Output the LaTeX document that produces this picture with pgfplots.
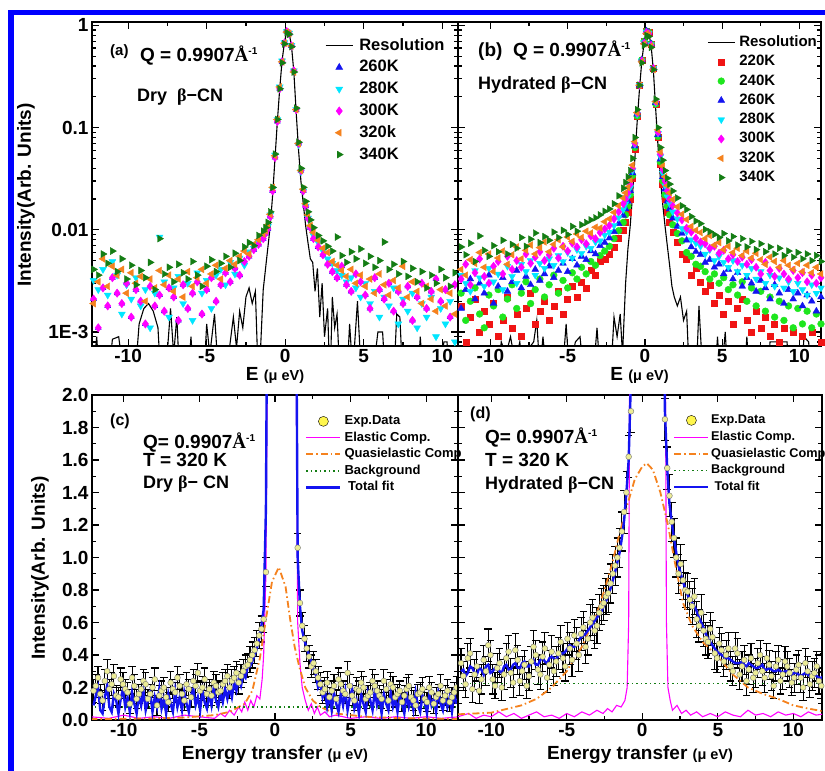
\documentclass[border=0pt]{standalone}
\usepackage{fontspec}
\setmainfont{Liberation Sans}
\newfontfamily\serif{Liberation Serif}
\usepackage{pgfplots}
\usepackage{pgfplotstable}
\pgfplotsset{compat=1.18}
\definecolor{cB}{RGB}{20,20,240}
\definecolor{cC}{RGB}{0,230,255}
\definecolor{cM}{RGB}{255,0,255}
\definecolor{cO}{RGB}{245,130,30}
\definecolor{cG}{RGB}{20,125,20}
\definecolor{cR}{RGB}{240,20,20}
\definecolor{cL}{RGB}{30,230,30}
\definecolor{cY}{RGB}{236,236,150}
\definecolor{frameblue}{RGB}{0,0,255}
\newcommand\fs[1]{\fontsize{#1}{#1}\selectfont}
\newcommand\Ang{{\serif\bfseries Å}}
\newcommand\supm{\raisebox{7pt}{\fs{10}-1}}
\newcommand\Tx[3]{\node[anchor=base west,inner sep=0pt] at ({#1pt},{771pt-#2pt}) {#3};}

\pgfplotsset{
 every axis/.append style={scale only axis, axis line style={line width=1.4pt},
  tick style={black, line width=1.2pt}, major tick length=7pt, minor tick length=4pt,
  tick align=inside, /pgf/number format/assume math mode=true,
  tick label style={font=\fs{19}\bfseries}, label style={font=\fs{19}\bfseries},
  legend cell align=left},
 legA/.style={legend image code/.code={\draw[mark repeat=2,mark phase=2,##1] plot coordinates {(0pt,0pt) (13.5pt,0pt) (27pt,0pt)};}},
 legC/.style={legend image code/.code={\draw[mark repeat=2,mark phase=2,##1] plot coordinates {(0pt,0pt) (17pt,0pt) (34pt,0pt)};}},
}

\pgfplotstableread{
x t260 t280 t300 t320 t340
-12.2 0.0021 0.0032 0.0021 0.0019 0.0041
-11.9 0.0011 0.0026 0.0011 0.0031 0.0036
-11.6 0.0027 0.0041 0.0027 0.0052 0.0058
-11.3 0.0018 0.0023 0.0018 0.0028 0.0047
-11.0 0.0034 0.0049 0.0034 0.0044 0.0062
-10.7 0.0024 0.0036 0.0024 0.0036 0.0039
-10.4 0.0019 0.0015 0.0019 0.0041 0.0052
-10.1 0.0030 0.0029 0.0030 0.0024 0.0033
-9.8 0.0014 0.0021 0.0014 0.0038 0.0045
-9.5 0.0026 0.0034 0.0026 0.0030 0.0029
-9.2 0.0020 0.0018 0.0020 0.0035 0.0040
-8.9 0.0012 0.0026 0.0012 0.0020 0.0034
-8.6 0.0028 0.0011 0.0028 0.0033 0.0048
-8.3 0.0018 0.0024 0.0018 0.0027 0.0026
-8.0 0.0023 0.0085 0.0023 0.0040 0.0082
-7.7 0.0016 0.0031 0.0016 0.0029 0.0037
-7.4 0.0027 0.0014 0.0027 0.0036 0.0043
-7.1 0.0022 0.0027 0.0022 0.0025 0.0031
-6.8 0.0013 0.0035 0.0013 0.0033 0.0046
-6.5 0.0029 0.0019 0.0029 0.0022 0.0038
-6.2 0.0017 0.0030 0.0017 0.0039 0.0033
-5.9 0.0024 0.0013 0.0024 0.0028 0.0049
-5.6 0.0031 0.0038 0.0031 0.0034 0.0036
-5.3 0.0015 0.0024 0.0015 0.0041 0.0028
-5.0 0.0026 0.0032 0.0026 0.0030 0.0044
-4.7 0.0034 0.0017 0.0034 0.0037 0.0051
-4.4 0.0020 0.0036 0.0020 0.0045 0.0039
-4.1 0.0029 0.0041 0.0029 0.0033 0.0047
-3.8 0.0038 0.0029 0.0038 0.0042 0.0055
-3.5 0.0031 0.0048 0.0031 0.0050 0.0043
-3.2 0.0042 0.0037 0.0042 0.0046 0.0059
-2.9 0.0036 0.0053 0.0036 0.0055 0.0050
-2.6 0.0049 0.0045 0.0049 0.0062 0.0068
-2.3 0.0055 0.0061 0.0055 0.0058 0.0075
-2.0 0.0064 0.0066 0.0064 0.0072 0.0070
-1.7 0.0072 0.0075 0.0072 0.0080 0.0088
-1.4 0.0082 0.0086 0.0082 0.0091 0.0097
-1.25 0.0092 0.0095 0.0092 0.0098 0.0105
-1.1 0.0102 0.0108 0.0102 0.0112 0.0118
-0.95 0.0135 0.014 0.0135 0.0142 0.015
-0.8 0.024 0.025 0.024 0.026 0.026
-0.65 0.051 0.054 0.051 0.053 0.055
-0.5 0.115 0.12 0.115 0.12 0.12
-0.35 0.24 0.25 0.24 0.25 0.24
-0.2 0.44 0.45 0.44 0.44 0.43
-0.05 0.67 0.68 0.67 0.67 0.66
0.1 0.87 0.87 0.87 0.86 0.85
0.25 0.83 0.84 0.83 0.83 0.82
0.4 0.63 0.64 0.63 0.63 0.62
0.55 0.36 0.36 0.36 0.35 0.35
0.7 0.15 0.15 0.15 0.15 0.155
0.85 0.07 0.068 0.07 0.07 0.072
1.0 0.038 0.037 0.038 0.038 0.04
1.15 0.024 0.024 0.024 0.025 0.026
1.3 0.017 0.017 0.017 0.018 0.019
1.45 0.013 0.013 0.013 0.014 0.015
1.6 0.0105 0.0105 0.0105 0.011 0.0125
1.8 0.0082 0.0088 0.0082 0.0094 0.0105
2.1 0.0068 0.0075 0.0068 0.0079 0.0088
2.4 0.0057 0.0062 0.0057 0.0066 0.0078
2.7 0.0046 0.0052 0.0046 0.0060 0.0069
3.0 0.0039 0.0047 0.0039 0.0049 0.0062
3.3 0.0034 0.0040 0.0034 0.0045 0.0085
3.6 0.0044 0.0036 0.0044 0.0040 0.0056
3.9 0.0029 0.0031 0.0029 0.0035 0.0048
4.2 0.0025 0.0034 0.0025 0.0041 0.0061
4.5 0.0037 0.0027 0.0037 0.0030 0.0052
4.8 0.0031 0.0022 0.0031 0.0036 0.0065
5.1 0.0023 0.0030 0.0023 0.0028 0.0047
5.4 0.0017 0.0019 0.0017 0.0033 0.0055
5.7 0.0034 0.0025 0.0034 0.0024 0.0043
6.0 0.0026 0.0014 0.0026 0.0037 0.0050
6.3 0.0021 0.0022 0.0021 0.0029 0.0076
6.6 0.0030 0.0018 0.0030 0.0023 0.0041
6.9 0.0016 0.0027 0.0016 0.0032 0.0046
7.2 0.0025 0.0012 0.0025 0.0027 0.0037
7.5 0.0019 0.0021 0.0019 0.0044 0.0049
7.8 0.0028 0.0016 0.0028 0.0022 0.0035
8.1 0.0013 0.0024 0.0013 0.0031 0.0042
8.4 0.0022 0.0011 0.0022 0.0025 0.0031
8.7 0.0030 0.0019 0.0030 0.0019 0.0039
9.0 0.0017 0.0014 0.0017 0.0028 0.0027
9.3 0.0025 0.0022 0.0025 0.0021 0.0036
9.6 0.0033 0.0009 0.0033 0.0016 0.0030
9.9 0.0020 0.0017 0.0020 0.0026 0.0041
10.2 0.0026 0.0012 0.0026 0.0018 0.0034
10.5 0.0014 0.0020 0.0014 0.0024 0.0028
10.8 0.0029 0.0008 0.0029 0.0015 0.0038
11.1 0.0019 0.0015 0.0019 0.0022 0.0032
11.4 0.0024 0.0011 0.0024 0.0017 0.0036
}\tabA

\pgfplotstableread{
x r
-12.3 0.0003
-12.0 0.0009
-11.8 0.0003
-11.3 0.0003
-11.0 0.00085
-10.6 0.0009
-10.2 0.0003
-9.6 0.0003
-9.3 0.0012
-9.0 0.0017
-8.7 0.0019
-8.4 0.0016
-8.1 0.0011
-7.9 0.0003
-7.6 0.0004
-7.3 0.0017
-7.1 0.0006
-6.9 0.0014
-6.7 0.0003
-6.2 0.0003
-6.0 0.0009
-5.8 0.0003
-5.2 0.0003
-5.0 0.0012
-4.8 0.0006
-4.5 0.0015
-4.3 0.0005
-3.9 0.0003
-3.6 0.0006
-3.3 0.0014
-3.1 0.0007
-2.9 0.0016
-2.7 0.0011
-2.5 0.0022
-2.3 0.0027
-2.1 0.0019
-1.9 0.0025
-1.7 0.0003
-1.55 0.0008
-1.4 0.0026
-1.25 0.0042
-1.1 0.0068
-0.95 0.011
-0.8 0.022
-0.65 0.05
-0.5 0.115
-0.35 0.24
-0.2 0.45
-0.05 0.68
0.1 0.88
0.25 0.84
0.4 0.63
0.55 0.35
0.7 0.14
0.85 0.06
1.0 0.03
1.15 0.018
1.3 0.011
1.45 0.0075
1.6 0.0052
1.75 0.0048
1.9 0.0025
2.05 0.0042
2.2 0.0014
2.35 0.0030
2.5 0.0009
2.7 0.0017
2.85 0.0003
3.0 0.0022
3.15 0.0011
3.3 0.0015
3.5 0.0003
3.9 0.0003
4.1 0.0012
4.3 0.0004
4.6 0.0020
4.8 0.0005
5.1 0.0003
5.5 0.0003
5.9 0.0010
6.2 0.0010
6.4 0.0003
6.9 0.0003
7.1 0.0015
7.3 0.0014
7.5 0.0003
8.4 0.0003
8.6 0.0009
8.8 0.0003
9.8 0.0003
10.1 0.0008
10.3 0.0008
10.5 0.0003
11.0 0.0003
11.5 0.0006
}\resA

\pgfplotstableread{
x t220 t240 t260 t280 t300 t320 t340
-12.2 0.0011 0.0016 0.0029 0.0022 0.0042 0.0055 0.0052
-11.9 0.0018 0.0024 0.0017 0.0036 0.0033 0.0041 0.0068
-11.6 0.0008 0.0013 0.0026 0.0030 0.0046 0.0036 0.0057
-11.3 0.0014 0.0020 0.0033 0.0025 0.0029 0.0051 0.0074
-11.0 0.0021 0.0027 0.0021 0.0040 0.0038 0.0047 0.0049
-10.7 0.0010 0.0015 0.0030 0.0034 0.0052 0.0060 0.0087
-10.4 0.0016 0.0011 0.0024 0.0028 0.0035 0.0043 0.0063
-10.1 0.0012 0.0023 0.0036 0.0042 0.0030 0.0058 0.0055
-9.8 0.0019 0.0018 0.0019 0.0031 0.0044 0.0039 0.0070
-9.5 0.0009 0.0026 0.0028 0.0037 0.0049 0.0053 0.0061
-9.2 0.0013 0.0014 0.0034 0.0026 0.0037 0.0062 0.0079
-8.9 0.0022 0.0021 0.0025 0.0044 0.0055 0.0046 0.0058
-8.6 0.0011 0.0029 0.0031 0.0035 0.0041 0.0057 0.0072
-8.3 0.0015 0.0017 0.0040 0.0030 0.0050 0.0068 0.0066
-8.0 0.0009 0.0024 0.0027 0.0046 0.0043 0.0052 0.0084
-7.7 0.0017 0.0031 0.0035 0.0039 0.0058 0.0063 0.0069
-7.4 0.0024 0.0019 0.0029 0.0050 0.0047 0.0071 0.0081
-7.1 0.0012 0.0026 0.0041 0.0036 0.0054 0.0058 0.0093
-6.8 0.0016 0.0033 0.0032 0.0047 0.0061 0.0067 0.0075
-6.5 0.0020 0.0022 0.0037 0.0042 0.0050 0.0076 0.0086
-6.2 0.0013 0.0029 0.0044 0.0052 0.0057 0.0061 0.0079
-5.9 0.0018 0.0036 0.0034 0.0045 0.0066 0.0072 0.0095
-5.6 0.0025 0.0024 0.0040 0.0056 0.0053 0.0080 0.0084
-5.3 0.0015 0.0032 0.0047 0.0049 0.0069 0.0068 0.0099
-5.0 0.0021 0.0027 0.0039 0.0060 0.0062 0.0085 0.0090
-4.7 0.0028 0.0038 0.0052 0.0053 0.0074 0.0077 0.0108
-4.4 0.0022 0.0033 0.0045 0.0064 0.0068 0.0091 0.0097
-4.1 0.0031 0.0043 0.0055 0.0059 0.0080 0.0084 0.0112
-3.8 0.0027 0.0037 0.0051 0.0069 0.0073 0.0097 0.0118
-3.5 0.0040 0.0049 0.0062 0.0066 0.0087 0.0093 0.0125
-3.2 0.0036 0.0045 0.0058 0.0076 0.0082 0.0106 0.0131
-2.9 0.0049 0.0056 0.0070 0.0078 0.0094 0.0104 0.0140
-2.6 0.0052 0.0062 0.0075 0.0089 0.0102 0.0120 0.0152
-2.3 0.0058 0.0069 0.0083 0.0095 0.0110 0.0128 0.0160
-2.0 0.0068 0.0082 0.0096 0.0110 0.0128 0.0148 0.0180
-1.7 0.0082 0.0098 0.0115 0.0132 0.0150 0.0172 0.0215
-1.4 0.0100 0.0118 0.0138 0.0158 0.0180 0.0205 0.0255
-1.25 0.012 0.014 0.016 0.018 0.020 0.023 0.029
-1.1 0.015 0.017 0.019 0.021 0.023 0.026 0.033
-0.95 0.020 0.022 0.024 0.026 0.028 0.031 0.038
-0.8 0.032 0.034 0.036 0.038 0.040 0.043 0.050
-0.65 0.062 0.064 0.066 0.068 0.070 0.073 0.080
-0.5 0.13 0.13 0.135 0.135 0.14 0.14 0.15
-0.35 0.26 0.26 0.26 0.26 0.26 0.26 0.26
-0.2 0.46 0.46 0.46 0.45 0.45 0.44 0.43
-0.05 0.70 0.70 0.69 0.68 0.67 0.66 0.64
0.1 0.88 0.88 0.88 0.86 0.85 0.83 0.80
0.25 0.86 0.86 0.85 0.84 0.83 0.81 0.78
0.4 0.66 0.66 0.66 0.65 0.64 0.63 0.61
0.55 0.38 0.38 0.38 0.38 0.38 0.37 0.37
0.7 0.17 0.17 0.175 0.175 0.18 0.18 0.19
0.85 0.08 0.082 0.085 0.088 0.09 0.095 0.10
1.0 0.044 0.046 0.049 0.052 0.055 0.058 0.064
1.15 0.028 0.030 0.033 0.036 0.039 0.042 0.048
1.3 0.020 0.022 0.025 0.027 0.030 0.033 0.038
1.45 0.015 0.017 0.019 0.021 0.024 0.027 0.032
1.6 0.012 0.014 0.016 0.018 0.020 0.023 0.028
1.8 0.0095 0.0112 0.0130 0.0150 0.0172 0.0198 0.0240
2.1 0.0075 0.0092 0.0108 0.0128 0.0146 0.0168 0.0205
2.4 0.0058 0.0078 0.0092 0.0103 0.0125 0.0142 0.0172
2.7 0.0052 0.0060 0.0079 0.0096 0.0104 0.0126 0.0158
3.0 0.0036 0.0055 0.0068 0.0080 0.0095 0.0108 0.0135
3.3 0.0042 0.0046 0.0061 0.0074 0.0083 0.0099 0.0122
3.6 0.0031 0.0044 0.0057 0.0069 0.0076 0.0094 0.0115
3.9 0.0025 0.0039 0.0048 0.0058 0.0073 0.0082 0.0101
4.2 0.0029 0.0033 0.0051 0.0064 0.0066 0.0088 0.0096
4.5 0.0019 0.0037 0.0043 0.0050 0.0069 0.0071 0.0090
4.8 0.0023 0.0030 0.0046 0.0055 0.0059 0.0075 0.0084
5.1 0.0015 0.0034 0.0037 0.0048 0.0063 0.0064 0.0092
5.4 0.0020 0.0026 0.0041 0.0043 0.0052 0.0069 0.0078
5.7 0.0012 0.0029 0.0033 0.0050 0.0057 0.0060 0.0086
6.0 0.0017 0.0023 0.0038 0.0039 0.0049 0.0066 0.0071
6.3 0.0021 0.0031 0.0028 0.0045 0.0054 0.0056 0.0082
6.6 0.0013 0.0020 0.0034 0.0036 0.0046 0.0062 0.0068
6.9 0.0010 0.0027 0.0030 0.0042 0.0051 0.0053 0.0077
7.2 0.0016 0.0018 0.0025 0.0033 0.0043 0.0059 0.0064
7.5 0.0011 0.0025 0.0032 0.0039 0.0037 0.0051 0.0073
7.8 0.0014 0.0016 0.0027 0.0030 0.0048 0.0046 0.0061
8.1 0.0009 0.0022 0.0021 0.0036 0.0040 0.0054 0.0068
8.4 0.0012 0.0014 0.0029 0.0028 0.0035 0.0049 0.0058
8.7 0.0008 0.0020 0.0024 0.0034 0.0042 0.0043 0.0066
9.0 0.0011 0.0013 0.0019 0.0027 0.0037 0.0050 0.0056
9.3 0.0007 0.0018 0.0026 0.0031 0.0033 0.0045 0.0062
9.6 0.0010 0.0011 0.0021 0.0025 0.0040 0.0041 0.0054
9.9 0.0006 0.0017 0.0024 0.0030 0.0034 0.0047 0.0060
10.2 0.0009 0.0012 0.0018 0.0026 0.0038 0.0039 0.0052
10.5 0.0007 0.0016 0.0023 0.0023 0.0031 0.0045 0.0058
10.8 0.0010 0.0011 0.0020 0.0029 0.0036 0.0038 0.0050
11.1 0.0006 0.0015 0.0016 0.0024 0.0030 0.0043 0.0056
11.4 0.0008 0.0012 0.0022 0.0027 0.0034 0.0037 0.0049
}\tabB

\pgfplotstableread{
x r
-12.2 0.0003
-11.6 0.0003
-11.4 0.0007
-11.2 0.0003
-9.6 0.0003
-9.3 0.0008
-9.0 0.0006
-8.7 0.0009
-8.4 0.0005
-8.1 0.0008
-7.8 0.0003
-7.5 0.0007
-7.2 0.0008
-7.0 0.0013
-6.8 0.0004
-6.6 0.0009
-6.3 0.0003
-5.4 0.0003
-5.1 0.0012
-4.9 0.0004
-4.5 0.0008
-4.2 0.0009
-3.9 0.0003
-3.4 0.0003
-3.1 0.0011
-2.9 0.0004
-2.2 0.0004
-2.0 0.0014
-1.8 0.0009
-1.6 0.0015
-1.45 0.0006
-1.25 0.0030
-1.1 0.0065
-0.95 0.011
-0.8 0.022
-0.65 0.05
-0.5 0.115
-0.35 0.24
-0.2 0.45
-0.05 0.68
0.1 0.88
0.25 0.85
0.4 0.64
0.55 0.36
0.7 0.15
0.85 0.065
1.0 0.032
1.15 0.018
1.3 0.011
1.45 0.007
1.6 0.0045
1.75 0.0028
1.9 0.0022
2.1 0.0018
2.3 0.0022
2.5 0.0013
2.7 0.0016
2.9 0.0003
3.3 0.0003
3.5 0.0018
3.7 0.0005
4.0 0.0003
4.5 0.0003
4.7 0.0009
4.9 0.0003
5.2 0.0010
5.4 0.0003
6.4 0.0003
6.6 0.0009
6.8 0.0003
7.9 0.0003
8.1 0.0008
8.6 0.0008
9.2 0.0008
9.4 0.0003
10.1 0.0003
10.3 0.0009
10.6 0.0008
10.8 0.0003
11.5 0.0003
}\resB

\pgfplotstableread{
x y e f
-12.0 0.18 0.07 0.09
-11.85 0.21 0.07 0.15
-11.7 0.26 0.07 0.20
-11.55 0.16 0.06 0.06
-11.4 0.12 0.06 0.04
-11.25 0.24 0.07 0.14
-11.1 0.30 0.07 0.21
-10.95 0.19 0.06 0.08
-10.8 0.22 0.07 0.05
-10.65 0.27 0.07 0.16
-10.5 0.15 0.06 0.12
-10.35 0.14 0.06 0.04
-10.2 0.25 0.07 0.13
-10.05 0.22 0.07 0.19
-9.9 0.19 0.06 0.08
-9.75 0.17 0.06 0.14
-9.6 0.10 0.06 0.05
-9.45 0.26 0.07 0.17
-9.3 0.21 0.07 0.10
-9.15 0.13 0.06 0.04
-9.0 0.16 0.06 0.15
-8.85 0.19 0.06 0.09
-8.7 0.24 0.07 0.18
-8.55 0.22 0.07 0.06
-8.4 0.13 0.06 0.12
-8.25 0.16 0.06 0.17
-8.1 0.20 0.06 0.05
-7.95 0.25 0.07 0.14
-7.8 0.09 0.06 0.08
-7.65 0.15 0.06 0.19
-7.5 0.18 0.06 0.07
-7.35 0.20 0.06 0.13
-7.2 0.14 0.06 0.04
-7.05 0.11 0.06 0.16
-6.9 0.23 0.07 0.10
-6.75 0.19 0.06 0.05
-6.6 0.17 0.06 0.18
-6.45 0.26 0.07 0.08
-6.3 0.21 0.07 0.14
-6.15 0.16 0.06 0.06
-6.0 0.12 0.06 0.17
-5.85 0.22 0.07 0.10
-5.7 0.19 0.06 0.05
-5.55 0.14 0.06 0.15
-5.4 0.24 0.07 0.19
-5.25 0.21 0.07 0.09
-5.1 0.29 0.06 0.14
-4.95 0.18 0.06 0.06
-4.8 0.20 0.07 0.18
-4.65 0.25 0.07 0.11
-4.5 0.16 0.07 0.07
-4.35 0.19 0.06 0.16
-4.2 0.15 0.06 0.09
-4.05 0.23 0.07 0.20
-3.9 0.21 0.07 0.12
-3.75 0.17 0.06 0.08
-3.6 0.18 0.06 0.17
-3.45 0.22 0.07 0.11
-3.3 0.24 0.07 0.19
-3.15 0.27 0.07 0.13
-3.0 0.20 0.07 0.20
-2.85 0.24 0.07 0.14
-2.7 0.26 0.07 0.23
-2.55 0.29 0.07 0.18
-2.4 0.23 0.07 0.25
-2.25 0.27 0.07 0.21
-2.1 0.30 0.07 0.28
-1.95 0.33 0.07 0.26
-1.8 0.34 0.07 0.33
-1.65 0.37 0.08 0.33
-1.5 0.40 0.08 0.36
-1.35 0.43 0.08 0.40
-1.2 0.47 0.08 0.44
-1.05 0.52 0.08 0.50
-0.9 0.56 0.08 0.58
-0.75 0.62 0.08 0.68
-0.6 0.91 0.09 1.3
-0.3 5 0.1 6
0.0 5 0.1 8
0.3 5 0.1 8
0.6 5 0.1 8
0.9 5 0.1 7
1.2 5 0.1 6
1.5 1.06 0.09 1.0
1.65 0.72 0.08 0.70
1.8 0.58 0.08 0.55
1.95 0.50 0.08 0.49
2.1 0.44 0.08 0.44
2.25 0.39 0.07 0.40
2.4 0.33 0.07 0.36
2.55 0.35 0.07 0.31
2.7 0.30 0.07 0.28
2.85 0.26 0.07 0.20
3.0 0.22 0.07 0.23
3.15 0.17 0.07 0.14
3.3 0.19 0.07 0.18
3.45 0.23 0.07 0.08
3.6 0.14 0.06 0.15
3.75 0.18 0.06 0.06
3.9 0.21 0.07 0.17
4.05 0.13 0.06 0.10
4.2 0.25 0.07 0.05
4.35 0.22 0.07 0.16
4.5 0.18 0.06 0.09
4.65 0.16 0.06 0.18
4.8 0.29 0.07 0.06
4.95 0.21 0.07 0.14
5.1 0.15 0.06 0.19
5.25 0.12 0.06 0.07
5.4 0.19 0.07 0.12
5.55 0.18 0.06 0.04
5.7 0.23 0.07 0.16
5.85 0.20 0.07 0.10
6.0 0.13 0.06 0.05
6.15 0.15 0.06 0.17
6.3 0.17 0.06 0.12
6.45 0.24 0.07 0.06
6.6 0.21 0.07 0.18
6.75 0.18 0.06 0.09
6.9 0.15 0.06 0.14
7.05 0.13 0.06 0.04
7.2 0.24 0.07 0.16
7.35 0.19 0.06 0.10
7.5 0.12 0.06 0.06
7.65 0.22 0.07 0.17
7.8 0.20 0.07 0.08
7.95 0.14 0.06 0.13
8.1 0.16 0.06 0.05
8.25 0.18 0.06 0.15
8.4 0.11 0.06 0.10
8.55 0.15 0.06 0.04
8.7 0.19 0.07 0.16
8.85 0.21 0.07 0.08
9.0 0.14 0.06 0.13
9.15 0.12 0.06 0.06
9.3 0.09 0.06 0.17
9.45 0.16 0.06 0.09
9.6 0.17 0.06 0.05
9.75 0.19 0.07 0.15
9.9 0.13 0.06 0.11
10.05 0.11 0.06 0.04
10.2 0.20 0.07 0.16
10.35 0.17 0.06 0.09
10.5 0.10 0.06 0.13
10.65 0.14 0.06 0.05
10.8 0.16 0.06 0.17
10.95 0.21 0.07 0.10
11.1 0.12 0.06 0.06
11.25 0.15 0.06 0.15
11.4 0.18 0.07 0.08
11.55 0.11 0.06 0.14
11.7 0.14 0.06 0.05
11.85 0.17 0.06 0.16
12.0 0.20 0.07 0.10
}\tabC

\pgfplotstableread{
x y
-12.2 0.02
-11.0 0.01
-10.0 0.03
-9.0 0.01
-8.0 0.02
-7.0 0.01
-6.0 0.03
-5.0 0.02
-4.0 0.01
-3.6 0.04
-3.3 0.02
-3.0 0.06
-2.7 0.03
-2.4 0.08
-2.2 0.05
-2.0 0.11
-1.8 0.06
-1.6 0.12
-1.4 0.08
-1.2 0.15
-1.0 0.13
-0.85 0.25
-0.75 0.4
-0.6 0.9
-0.45 3
1.35 3
1.5 0.6
1.65 0.35
1.8 0.2
2.0 0.12
2.2 0.06
2.4 0.10
2.6 0.04
2.8 0.08
3.0 0.03
3.3 0.05
3.6 0.02
4.0 0.03
5.0 0.01
6.0 0.02
7.0 0.01
8.0 0.02
9.0 0.01
10.0 0.02
11.0 0.01
12.2 0.02
}\elC

\pgfplotstableread{
x y
-12.2 0.005
-8.0 0.010
-6.0 0.015
-4.0 0.030
-3.0 0.050
-2.0 0.100
-1.5 0.180
-1.0 0.380
-0.6 0.620
-0.2 0.850
0.25 0.940
0.7 0.820
1.0 0.620
1.3 0.450
1.6 0.330
2.0 0.200
2.5 0.120
3.0 0.080
4.0 0.040
6.0 0.020
8.0 0.012
12.2 0.006
}\qeC

\pgfplotstableread{
x y e f
-12.0 0.35 0.09 0.30
-11.85 0.27 0.09 0.31
-11.7 0.22 0.08 0.27
-11.55 0.38 0.09 0.29
-11.4 0.41 0.09 0.33
-11.25 0.19 0.08 0.32
-11.1 0.28 0.09 0.29
-10.95 0.33 0.09 0.28
-10.8 0.18 0.08 0.32
-10.65 0.25 0.09 0.31
-10.5 0.37 0.09 0.28
-10.35 0.30 0.09 0.33
-10.2 0.46 0.10 0.34
-10.05 0.40 0.09 0.29
-9.9 0.25 0.09 0.30
-9.75 0.21 0.08 0.32
-9.6 0.32 0.09 0.33
-9.45 0.35 0.09 0.30
-9.3 0.20 0.08 0.29
-9.15 0.28 0.09 0.33
-9.0 0.38 0.09 0.34
-8.85 0.42 0.10 0.31
-8.7 0.29 0.09 0.31
-8.55 0.23 0.09 0.34
-8.4 0.43 0.10 0.35
-8.25 0.37 0.09 0.32
-8.1 0.24 0.09 0.32
-7.95 0.30 0.09 0.35
-7.8 0.34 0.09 0.36
-7.65 0.21 0.08 0.33
-7.5 0.27 0.09 0.33
-7.35 0.36 0.09 0.36
-7.2 0.45 0.10 0.37
-7.05 0.40 0.09 0.34
-6.9 0.31 0.09 0.34
-6.75 0.28 0.09 0.37
-6.6 0.39 0.09 0.38
-6.45 0.44 0.10 0.36
-6.3 0.26 0.09 0.35
-6.15 0.34 0.09 0.38
-6.0 0.42 0.10 0.39
-5.85 0.30 0.09 0.38
-5.7 0.36 0.09 0.37
-5.55 0.41 0.10 0.40
-5.4 0.48 0.10 0.41
-5.25 0.38 0.09 0.41
-5.1 0.33 0.09 0.42
-4.95 0.50 0.10 0.44
-4.8 0.44 0.10 0.46
-4.65 0.37 0.10 0.45
-4.5 0.52 0.10 0.45
-4.35 0.47 0.10 0.47
-4.2 0.40 0.10 0.49
-4.05 0.53 0.10 0.51
-3.9 0.57 0.10 0.52
-3.75 0.45 0.10 0.53
-3.6 0.50 0.10 0.55
-3.45 0.60 0.11 0.57
-3.3 0.63 0.11 0.59
-3.15 0.55 0.11 0.61
-3.0 0.58 0.11 0.63
-2.85 0.66 0.11 0.65
-2.7 0.70 0.11 0.67
-2.55 0.72 0.11 0.70
-2.4 0.76 0.11 0.73
-2.25 0.78 0.12 0.77
-2.1 0.84 0.12 0.81
-1.95 0.90 0.12 0.86
-1.8 0.95 0.12 0.91
-1.65 1.00 0.12 0.97
-1.5 1.06 0.12 1.03
-1.35 1.16 0.12 1.12
-1.2 1.28 0.13 1.23
-1.05 1.40 0.13 1.40
-0.9 1.62 0.13 1.60
-0.75 1.90 0.13 2.1
-0.6 5 0.1 3
-0.3 5 0.1 6
0.0 5 0.1 8
0.3 5 0.1 8
0.6 5 0.1 8
0.9 5 0.1 7
1.2 5 0.1 4
1.5 1.85 0.13 1.9
1.65 1.55 0.13 1.55
1.8 1.38 0.13 1.33
1.95 1.22 0.12 1.22
2.1 1.12 0.12 1.12
2.25 1.00 0.12 1.03
2.4 0.90 0.12 0.95
2.55 0.96 0.12 0.90
2.7 0.86 0.12 0.85
2.85 0.80 0.11 0.81
3.0 0.79 0.11 0.77
3.15 0.74 0.11 0.74
3.3 0.70 0.11 0.72
3.45 0.76 0.11 0.70
3.6 0.62 0.11 0.67
3.75 0.58 0.10 0.63
3.9 0.66 0.11 0.60
4.05 0.55 0.10 0.57
4.2 0.50 0.10 0.53
4.35 0.48 0.10 0.50
4.5 0.56 0.10 0.48
4.65 0.51 0.10 0.46
4.8 0.41 0.10 0.44
4.95 0.38 0.09 0.42
5.1 0.47 0.10 0.41
5.25 0.43 0.10 0.40
5.4 0.36 0.09 0.39
5.55 0.40 0.09 0.38
5.7 0.44 0.10 0.38
5.85 0.33 0.09 0.37
6.0 0.30 0.09 0.36
6.15 0.44 0.10 0.35
6.3 0.41 0.09 0.35
6.45 0.28 0.09 0.35
6.6 0.33 0.09 0.36
6.75 0.37 0.09 0.34
6.9 0.24 0.09 0.33
7.05 0.31 0.09 0.35
7.2 0.38 0.09 0.34
7.35 0.26 0.09 0.33
7.5 0.29 0.09 0.32
7.65 0.35 0.09 0.32
7.8 0.40 0.09 0.33
7.95 0.30 0.09 0.34
8.1 0.26 0.09 0.31
8.25 0.38 0.09 0.31
8.4 0.34 0.09 0.32
8.55 0.27 0.09 0.31
8.7 0.21 0.08 0.30
8.85 0.33 0.09 0.30
9.0 0.37 0.09 0.31
9.15 0.24 0.08 0.30
9.3 0.28 0.09 0.29
9.45 0.36 0.09 0.30
9.6 0.33 0.09 0.30
9.75 0.29 0.09 0.28
9.9 0.23 0.08 0.28
10.05 0.26 0.09 0.29
10.2 0.31 0.09 0.29
10.35 0.34 0.09 0.28
10.5 0.26 0.09 0.27
10.65 0.20 0.08 0.28
10.8 0.35 0.09 0.29
10.95 0.30 0.09 0.28
11.1 0.22 0.08 0.27
11.25 0.27 0.09 0.27
11.4 0.29 0.09 0.28
11.55 0.33 0.09 0.27
11.7 0.24 0.08 0.26
11.85 0.21 0.08 0.26
12.0 0.32 0.09 0.27
}\tabD

\pgfplotstableread{
x y
-12.2 0.02
-11.5 0.04
-11.0 0.01
-10.5 0.03
-10.0 0.02
-9.5 0.05
-9.0 0.02
-8.5 0.04
-8.0 0.01
-7.5 0.03
-7.0 0.05
-6.5 0.02
-6.0 0.03
-5.5 0.01
-5.0 0.04
-4.5 0.02
-4.0 0.05
-3.5 0.03
-3.0 0.06
-2.6 0.04
-2.3 0.07
-2.0 0.05
-1.7 0.09
-1.4 0.08
-1.15 0.12
-1.0 0.20
-0.9 0.60
-0.8 3
1.5 3
1.6 0.6
1.7 0.2
1.85 0.12
2.0 0.06
2.3 0.09
2.6 0.04
2.9 0.06
3.2 0.03
3.6 0.05
4.0 0.02
4.5 0.04
5.0 0.02
5.5 0.05
6.0 0.03
6.5 0.02
7.0 0.06
7.5 0.03
8.0 0.04
8.5 0.02
9.0 0.05
9.5 0.03
10.0 0.04
10.5 0.02
11.0 0.05
11.5 0.03
12.2 0.04
}\elD

\pgfplotstableread{
x y
-12.2 0.035
-10.0 0.045
-8.0 0.090
-7.0 0.130
-6.0 0.200
-5.0 0.300
-4.5 0.380
-4.0 0.450
-3.0 0.660
-2.5 0.800
-2.0 0.960
-1.5 1.150
-1.0 1.320
-0.5 1.480
0.0 1.560
0.3 1.580
0.7 1.540
1.2 1.400
1.7 1.200
2.2 0.950
2.7 0.720
3.3 0.580
4.0 0.480
5.0 0.390
6.0 0.280
7.0 0.200
8.0 0.160
9.0 0.130
10.0 0.090
11.0 0.070
12.2 0.050
}\qeD

\begin{document}
\begin{tikzpicture}[x=1pt,y=1pt]
\useasboundingbox (0,0) rectangle (825,771);
\fill[white] (0,0) rectangle (825,771);

% ---------- (a)
\begin{axis}[at={(92pt,425pt)}, anchor=south west, width=366pt, height=324pt,
  ymode=log, xmin=-12.3, xmax=11.0, ymin=7.3e-4, ymax=1.08,
  xtick={-10,-5,0,5,10}, xticklabels={-10,-5,0,5,10}, minor xtick={-7.5,-2.5,2.5,7.5},
  ytick={0.001,0.01,0.1,1}, yticklabels={1E-3,0.01,0.1,1},
  minor ytick={0.0008,0.0009,0.002,0.003,0.004,0.005,0.006,0.007,0.008,0.009,0.02,0.03,0.04,0.05,0.06,0.07,0.08,0.09,0.2,0.3,0.4,0.5,0.6,0.7,0.8,0.9},
  xlabel={E {\fs{14.5}(μ eV)}}, xlabel style={at={(axis description cs:0.5,0)}, anchor=center, yshift=-29pt},
  ylabel={Intensity(Arb. Units)}, ylabel style={at={(axis description cs:0,0.466)}, anchor=center, yshift=66pt},
  legend style={at={(0.6366,0.951)}, anchor=north west, draw=none, fill=none, inner sep=0pt,
    font=\fs{16.5}\bfseries, row sep=6.8pt, column sep=6pt, nodes={inner sep=0pt, text height=12pt, text depth=3pt}},
]
\addplot[black, line width=1.1pt, legA] table[x=x,y=r]{\resA};
\addplot[only marks, mark=triangle*, mark size=3.4pt, cB, legA, legend image post style={mark size=4pt}] table[x=x,y=t260]{\tabA};
\addplot[only marks, mark=triangle*, mark size=4pt, cC, mark options={rotate=180}, legA] table[x=x,y=t280]{\tabA};
\addplot[only marks, mark=diamond*, mark size=4.2pt, cM, legA] table[x=x,y=t300]{\tabA};
\addplot[only marks, mark=triangle*, mark size=4pt, cO, mark options={rotate=90}, legA] table[x=x,y=t320]{\tabA};
\addplot[only marks, mark=triangle*, mark size=4pt, cG, mark options={rotate=-90}, legA] table[x=x,y=t340]{\tabA};
\legend{Resolution,260K,280K,300K,320k,340K}
\end{axis}

% ---------- (b)
\begin{axis}[at={(458pt,425pt)}, anchor=south west, width=363pt, height=324pt,
  ymode=log, xmin=-12.1, xmax=11.4, ymin=7.3e-4, ymax=1.08,
  xtick={-10,-5,0,5,10}, xticklabels={-10,-5,0,5,10}, minor xtick={-7.5,-2.5,2.5,7.5},
  ytick={0.001,0.01,0.1,1}, yticklabels={},
  minor ytick={0.0008,0.0009,0.002,0.003,0.004,0.005,0.006,0.007,0.008,0.009,0.02,0.03,0.04,0.05,0.06,0.07,0.08,0.09,0.2,0.3,0.4,0.5,0.6,0.7,0.8,0.9},
  xlabel={E {\fs{14.5}(μ eV)}}, xlabel style={at={(axis description cs:0.5,0)}, anchor=center, yshift=-29pt},
  legend style={at={(0.686,0.959)}, anchor=north west, draw=none, fill=none, inner sep=0pt,
    font=\fs{15}\bfseries, row sep=5.3pt, column sep=4pt, nodes={inner sep=0pt, text height=11pt, text depth=3pt}},
]
\addplot[black, line width=1.1pt, legA] table[x=x,y=r]{\resB};
\addplot[only marks, mark=square*, mark size=3pt, cR, legA] table[x=x,y=t220]{\tabB};
\addplot[only marks, mark=*, mark size=3.4pt, cL, legA] table[x=x,y=t240]{\tabB};
\addplot[only marks, mark=triangle*, mark size=3.9pt, cB, legA] table[x=x,y=t260]{\tabB};
\addplot[only marks, mark=triangle*, mark size=3.9pt, cC, mark options={rotate=180}, legA] table[x=x,y=t280]{\tabB};
\addplot[only marks, mark=diamond*, mark size=4.1pt, cM, legA] table[x=x,y=t300]{\tabB};
\addplot[only marks, mark=triangle*, mark size=3.9pt, cO, mark options={rotate=90}, legA] table[x=x,y=t320]{\tabB};
\addplot[only marks, mark=triangle*, mark size=3.9pt, cG, mark options={rotate=-90}, legA] table[x=x,y=t340]{\tabB};
\legend{Resolution,220K,240K,260K,280K,300K,320K,340K}
\end{axis}

% ---------- (c)
\begin{axis}[at={(92pt,51pt)}, anchor=south west, width=366pt, height=325pt,
  xmin=-12.1, xmax=12.1, ymin=0, ymax=2.0,
  xtick={-10,-5,0,5,10}, xticklabels={-10,-5,0,5,10}, minor xtick={-7.5,-2.5,2.5,7.5},
  ytick={0,0.2,0.4,0.6,0.8,1.0,1.2,1.4,1.6,1.8,2.0},
  yticklabels={0.0,0.2,0.4,0.6,0.8,1.0,1.2,1.4,1.6,1.8,2.0},
  minor ytick={0.1,0.3,0.5,0.7,0.9,1.1,1.3,1.5,1.7,1.9},
  xlabel={Energy transfer {\fs{14.5}(μ eV)}}, xlabel style={at={(axis description cs:0.5,0)}, anchor=center, yshift=-35pt},
  ylabel={Intensity(Arb. Units)}, ylabel style={at={(axis description cs:0,0.468)}, anchor=center, yshift=52pt},
  legend style={at={(0.582,0.938)}, anchor=north west, draw=none, fill=none, inner sep=0pt,
    font=\fs{13}\bfseries, row sep=4.5pt, column sep=3pt, nodes={inner sep=0pt, text height=9.5pt, text depth=2.5pt}},
]
\addplot[only marks, mark=*, mark size=2.9pt, mark options={fill=cY, draw=black!55, line width=0.4pt},
  legC, legend image post style={mark size=5pt, mark options={fill=yellow!70!white, draw=black}},
  error bars/.cd, y dir=both, y explicit, error bar style={black, line width=1.1pt},
  error mark options={black, line width=1.1pt, mark size=3.8pt, rotate=90}]
  table[x=x,y=y,y error=e]{\tabC};
\addplot[cM, line width=1.1pt, legC] table[x=x,y=y]{\elC};
\addplot[cO, line width=1.8pt, dash pattern=on 7pt off 3pt on 1.5pt off 3pt, legC] table[x=x,y=y]{\qeC};
\addplot[cG, line width=1.5pt, dash pattern=on 1.5pt off 3pt, legC] coordinates {(-12.2,0.08) (12.2,0.08)};
\addplot[cB, line width=2.4pt, legC] table[x=x,y=f]{\tabC};
\legend{Exp.Data,Elastic Comp.,Quasielastic Comp,Background,\ Total fit}
\end{axis}

% ---------- (d)
\begin{axis}[at={(458pt,51pt)}, anchor=south west, width=364pt, height=325pt,
  xmin=-12.2, xmax=11.9, ymin=0, ymax=2.0,
  xtick={-10,-5,0,5,10}, xticklabels={-10,-5,0,5,10}, minor xtick={-7.5,-2.5,2.5,7.5},
  ytick={0,0.2,0.4,0.6,0.8,1.0,1.2,1.4,1.6,1.8,2.0}, yticklabels={},
  minor ytick={0.1,0.3,0.5,0.7,0.9,1.1,1.3,1.5,1.7,1.9},
  xlabel={Energy transfer {\fs{14.5}(μ eV)}}, xlabel style={at={(axis description cs:0.5,0)}, anchor=center, yshift=-35pt},
  legend style={at={(0.5907,0.941)}, anchor=north west, draw=none, fill=none, inner sep=0pt,
    font=\fs{12.7}\bfseries, row sep=4.7pt, column sep=1.5pt, nodes={inner sep=0pt, text height=9.5pt, text depth=2.5pt}},
]
\addplot[only marks, mark=*, mark size=2.9pt, mark options={fill=cY, draw=black!55, line width=0.4pt},
  legC, legend image post style={mark size=5pt, mark options={fill=yellow!70!white, draw=black}},
  error bars/.cd, y dir=both, y explicit, error bar style={black, line width=1.1pt},
  error mark options={black, line width=1.1pt, mark size=3.8pt, rotate=90}]
  table[x=x,y=y,y error=e]{\tabD};
\addplot[cM, line width=1.1pt, legC] table[x=x,y=y]{\elD};
\addplot[cO, line width=1.8pt, dash pattern=on 7pt off 3pt on 1.5pt off 3pt, legC] table[x=x,y=y]{\qeD};
\addplot[cG, line width=1.5pt, dash pattern=on 1.5pt off 3pt, legC] coordinates {(-12.3,0.225) (12.3,0.225)};
\addplot[cB, line width=2.4pt, legC] table[x=x,y=f]{\tabD};
\legend{Exp.Data,Elastic Comp.,Quasielastic Comp,Background,\ Total fit}
\end{axis}

% ---------- annotations
\Tx{110}{56}{\fs{15}\bfseries (a)}
\Tx{140}{62}{\fs{19}\bfseries Q = 0.9907\Ang\supm}
\Tx{137}{102}{\fs{18}\bfseries Dry\ \ {\serif β}−CN}
\Tx{478}{57}{\fs{19}\bfseries (b)\ \ Q = 0.9907\Ang\supm}
\Tx{478}{90}{\fs{18}\bfseries Hydrated {\serif β}−CN}
\Tx{110}{426}{\fs{16}\bfseries (c)}
\Tx{143}{449}{\fs{19}\bfseries Q= 0.9907\Ang\supm}
\Tx{143}{467}{\fs{19}\bfseries T = 320 K}
\Tx{143}{489}{\fs{18}\bfseries Dry {\serif β}− CN}
\Tx{470}{419}{\fs{16}\bfseries (d)}
\Tx{485}{444}{\fs{19}\bfseries Q= 0.9907\Ang\supm}
\Tx{485}{467}{\fs{19}\bfseries T = 320 K}
\Tx{485}{490}{\fs{18}\bfseries Hydrated {\serif β}−CN}

% ---------- blue frame
\fill[frameblue] (8,0) rectangle (14,761);
\fill[frameblue] (8,756) rectangle (825,761);
\end{tikzpicture}
\end{document}
